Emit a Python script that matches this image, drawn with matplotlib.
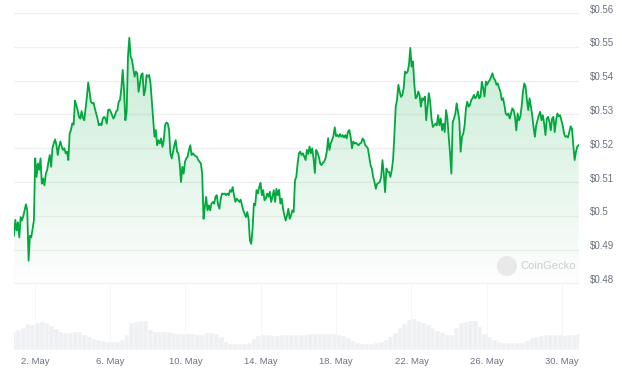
import matplotlib
matplotlib.use("Agg")
import matplotlib.pyplot as plt
import matplotlib.dates as mdates
from matplotlib.colors import to_rgb
from matplotlib.patches import Polygon, Ellipse
from matplotlib.transforms import blended_transform_factory, offset_copy
import numpy as np
import pandas as pd

# price in USD (about one point every 100 minutes)
price = [
    # 1 - 5 May
    0.4941, 0.4988, 0.4956, 0.4981, 0.4936, 0.4996, 0.4986, 0.4999, 0.5016, 0.5034,
    0.5016, 0.4867, 0.4941, 0.4936, 0.4961, 0.4986, 0.5170, 0.5115, 0.5155, 0.5136,
    0.5170, 0.5095, 0.5110, 0.5090, 0.5125, 0.5135, 0.5160, 0.5180, 0.5145, 0.5200,
    0.5215, 0.5226, 0.5210, 0.5180, 0.5205, 0.5220, 0.5205, 0.5195, 0.5200, 0.5185,
    0.5190, 0.5165, 0.5244, 0.5254, 0.5274, 0.5270, 0.5341, 0.5328, 0.5313, 0.5293,
    0.5288, 0.5310, 0.5290, 0.5283, 0.5318, 0.5352, 0.5395, 0.5368, 0.5338, 0.5333,
    0.5335, 0.5318, 0.5303, 0.5288, 0.5268, 0.5273, 0.5268, 0.5288,
    # 5 - 10 May
    0.5293, 0.5288, 0.5273, 0.5313, 0.5315, 0.5308, 0.5298, 0.5288, 0.5295, 0.5308,
    0.5313, 0.5338, 0.5343, 0.5378, 0.5432, 0.5373, 0.5283, 0.5308, 0.5472, 0.5527,
    0.5472, 0.5462, 0.5437, 0.5412, 0.5427, 0.5422, 0.5367, 0.5392, 0.5417, 0.5422,
    0.5357, 0.5372, 0.5417, 0.5412, 0.5417, 0.5392, 0.5338, 0.5288, 0.5234, 0.5254,
    0.5209, 0.5224, 0.5214, 0.5229, 0.5204, 0.5224, 0.5269, 0.5276, 0.5274, 0.5254,
    0.5185, 0.5170, 0.5190, 0.5209, 0.5224, 0.5190, 0.5185, 0.5155, 0.5100, 0.5145,
    0.5125, 0.5160, 0.5170, 0.5175, 0.5195, 0.5209, 0.5180, 0.5185, 0.5180, 0.5177,
    0.5175, 0.5165,
    # 10 - 15 May
    0.5160, 0.5155, 0.5125, 0.4991, 0.5026, 0.5056, 0.5016, 0.5031, 0.5016, 0.5036,
    0.5041, 0.5036, 0.5056, 0.5061, 0.5031, 0.5021, 0.5051, 0.5066, 0.5064, 0.5066,
    0.5061, 0.5066, 0.5061, 0.5076, 0.5071, 0.5085, 0.5061, 0.5041, 0.5051, 0.5046,
    0.5041, 0.5048, 0.5031, 0.5016, 0.5006, 0.4996, 0.5011, 0.4991, 0.4927, 0.4917,
    0.4961, 0.5036, 0.5031, 0.5076, 0.5066, 0.5085, 0.5097, 0.5061, 0.5076, 0.5046,
    0.5051, 0.5066, 0.5056, 0.5071, 0.5041, 0.5056, 0.5076, 0.5041, 0.5080, 0.5061,
    0.5077, 0.5036, 0.5051, 0.5021, 0.5001, 0.4986, 0.5001, 0.5021, 0.4991, 0.5001,
    0.5016, 0.5011,
    # 15 - 20 May
    0.5105, 0.5115, 0.5155, 0.5185, 0.5190, 0.5180, 0.5185, 0.5175, 0.5165, 0.5195,
    0.5183, 0.5205, 0.5185, 0.5200, 0.5170, 0.5127, 0.5195, 0.5187, 0.5175, 0.5155,
    0.5150, 0.5157, 0.5160, 0.5170, 0.5190, 0.5230, 0.5195, 0.5215, 0.5224, 0.5236,
    0.5262, 0.5236, 0.5239, 0.5234, 0.5242, 0.5234, 0.5239, 0.5232, 0.5239, 0.5229,
    0.5249, 0.5254, 0.5234, 0.5200, 0.5220, 0.5214, 0.5216, 0.5212, 0.5209, 0.5214,
    0.5216, 0.5229, 0.5224, 0.5209, 0.5205, 0.5200, 0.5175, 0.5150, 0.5140, 0.5115,
    0.5100, 0.5080, 0.5095, 0.5097, 0.5100, 0.5115, 0.5165, 0.5125, 0.5070, 0.5140,
    0.5130, 0.5130,
    # 20 - 25 May
    0.5115, 0.5135, 0.5165, 0.5240, 0.5323, 0.5343, 0.5388, 0.5368, 0.5352, 0.5358,
    0.5378, 0.5427, 0.5422, 0.5427, 0.5447, 0.5497, 0.5442, 0.5457, 0.5392, 0.5348,
    0.5352, 0.5368, 0.5358, 0.5323, 0.5348, 0.5343, 0.5353, 0.5283, 0.5323, 0.5363,
    0.5338, 0.5288, 0.5263, 0.5268, 0.5273, 0.5268, 0.5298, 0.5268, 0.5288, 0.5253,
    0.5273, 0.5248, 0.5313, 0.5288, 0.5234, 0.5185, 0.5125, 0.5278, 0.5288, 0.5303,
    0.5333, 0.5308, 0.5283, 0.5190, 0.5234, 0.5244, 0.5268, 0.5318, 0.5338, 0.5323,
    0.5328, 0.5343, 0.5348, 0.5358, 0.5348, 0.5353, 0.5368, 0.5348, 0.5353, 0.5397,
    0.5378, 0.5353,
    # 25 - 30 May
    0.5397, 0.5388, 0.5397, 0.5402, 0.5412, 0.5422, 0.5407, 0.5402, 0.5388, 0.5392,
    0.5378, 0.5368, 0.5343, 0.5348, 0.5328, 0.5303, 0.5298, 0.5303, 0.5288, 0.5303,
    0.5318, 0.5313, 0.5293, 0.5253, 0.5303, 0.5283, 0.5293, 0.5323, 0.5368, 0.5392,
    0.5383, 0.5343, 0.5313, 0.5348, 0.5323, 0.5298, 0.5263, 0.5234, 0.5268, 0.5283,
    0.5298, 0.5308, 0.5283, 0.5298, 0.5273, 0.5239, 0.5288, 0.5293, 0.5278, 0.5253,
    0.5288, 0.5293, 0.5248, 0.5283, 0.5303, 0.5295, 0.5298, 0.5283, 0.5268, 0.5244,
    0.5234, 0.5236, 0.5232, 0.5248, 0.5265, 0.5258, 0.5209, 0.5165, 0.5190, 0.5205,
    0.5209,
]

# trading volume, relative units, every 6 hours
volume = [
    18, 20, 21.7, 26, 25, 27, 28, 27.5, 24.5, 21,
    18, 17, 17.5, 18, 17.7, 15.5, 13, 11, 10, 9.3,
    8.5, 8.2, 8, 10, 15, 27, 28.5, 29.5, 29, 20,
    18.3, 18.3, 18.2, 18, 16.7, 16.2, 16.5, 16.5, 16.2, 15,
    15, 17.3, 17, 16, 13, 8, 6.5, 6, 5.7, 6,
    7, 11, 14, 15.5, 15.3, 14, 14.2, 14.8, 15, 15,
    15, 15, 15.3, 15.7, 16, 16, 15.8, 15.7, 15.7, 15.5,
    14, 12, 9.5, 7, 6.3, 6, 6.3, 6.7, 8, 10.5,
    13, 17, 22, 26, 30, 31, 29, 27, 25, 22,
    19, 17, 15.5, 15, 22, 27, 28.5, 29, 29, 23,
    16, 13, 10, 8.5, 7.5, 7, 6.7, 6.7, 7.5, 9.5,
    12, 13.5, 14.5, 15, 15.5, 15.5, 15, 14, 14.8, 15,
    16,
]

tick_dates = ["2024-05-02", "2024-05-06", "2024-05-10", "2024-05-14",
              "2024-05-18", "2024-05-22", "2024-05-26", "2024-05-30"]
tick_labels = ["2. May", "6. May", "10. May", "14. May",
               "18. May", "22. May", "26. May", "30. May"]
y_ticks = [0.48, 0.49, 0.50, 0.51, 0.52, 0.53, 0.54, 0.55, 0.56]
y_labels = ["$0.48", "$0.49", "$0.5", "$0.51", "$0.52", "$0.53", "$0.54", "$0.55", "$0.56"]

start = pd.Timestamp("2024-04-30 21:30")
t = pd.date_range(start, "2024-05-30 21:00", periods=len(price))
tv = pd.date_range(start, periods=len(volume), freq="6h")
x_end = pd.Timestamp("2024-05-30 21:30")

plt.rcParams["font.family"] = ["Liberation Sans", "DejaVu Sans"]
green = "#00a83e"
grey_text = "#6b7280"
grid_c = "#f0f0f0"

fig = plt.figure(figsize=(6.22, 3.78), dpi=100)
W, H = 622, 378
ax = fig.add_axes([14 / W, 1 - 285 / H, 565 / W, 273.5 / H])
axv = fig.add_axes([14 / W, 1 - 350 / H, 565 / W, 35 / H], sharex=ax)

# price line with a fading green fill underneath
xn = mdates.date2num(t)
ax.plot(xn, price, color=green, lw=1.3, zorder=3, solid_joinstyle="round")
alpha = np.linspace(0.25, 0.01, 256)
rgba = np.zeros((256, 1, 4))
rgba[..., :3] = to_rgb(green)
rgba[:, 0, 3] = alpha
im = ax.imshow(rgba, extent=[xn[0], xn[-1], 0.48, 0.56], aspect="auto",
               origin="upper", zorder=2, interpolation="bilinear")
verts = [(xn[0], 0.48)] + list(zip(xn, price)) + [(xn[-1], 0.48)]
clip = Polygon(verts, closed=True, facecolor="none", edgecolor="none",
               transform=ax.transData)
ax.add_patch(clip)
im.set_clip_path(clip)

ax.set_xlim(mdates.date2num(start), mdates.date2num(x_end))
ax.set_ylim(0.4795, 0.5605)
ax.set_yticks(y_ticks)
ax.yaxis.grid(True, color=grid_c, lw=1)
ax.set_axisbelow(True)
ax.tick_params(axis="both", length=0, labelleft=False, labelbottom=False)
for s in ax.spines.values():
    s.set_visible(False)

# right-hand price labels, sitting a little above their grid lines
tr = offset_copy(blended_transform_factory(ax.transAxes, ax.transData),
                 fig=fig, x=11, y=3.5, units="dots")
for v, lab in zip(y_ticks, y_labels):
    ax.text(1.0, v, lab, transform=tr, ha="left", va="center",
            fontsize=7, color=grey_text)

# volume bars
tick_x = mdates.date2num(pd.to_datetime(tick_dates))
axv.bar(mdates.date2num(tv), volume, width=0.25, color="#eef0f3",
        edgecolor="white", linewidth=0.3, zorder=2)
axv.vlines(tick_x, 0, 66, color="#f4f5f7", lw=0.6, clip_on=False, zorder=1)
axv.set_ylim(0, 35)
axv.set_yticks([])
axv.set_xticks(tick_x)
axv.set_xticklabels(tick_labels)
axv.tick_params(axis="x", length=0, pad=5, labelsize=6.8, labelcolor=grey_text)
for s in axv.spines.values():
    s.set_visible(False)

# CoinGecko watermark
fig.add_artist(Ellipse((507 / W, 1 - 266 / H), 20 / W, 20 / H,
                       transform=fig.transFigure, facecolor="#e9e9e9",
                       edgecolor="none"))
fig.text(520 / W, 1 - 266 / H, "CoinGecko", ha="left", va="center",
         fontsize=8, color="#cccccc")

fig.savefig("out.png", dpi=100)
